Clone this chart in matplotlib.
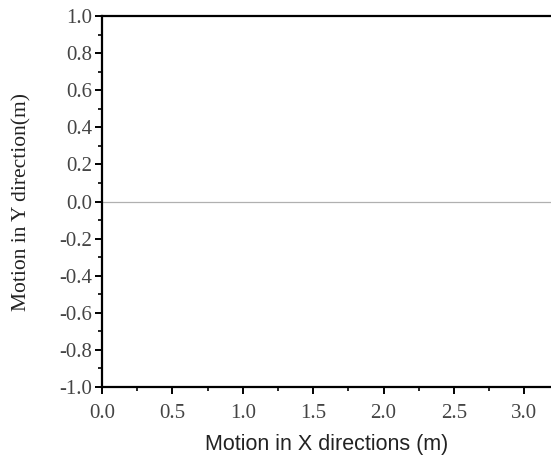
import matplotlib.pyplot as plt
from matplotlib.ticker import MultipleLocator

# motion path (lies on y = 0 along the whole x range)
x_motion = [0.0, 3.2]
y_motion = [0.0, 0.0]

x_ticks = [0.0, 0.5, 1.0, 1.5, 2.0, 2.5, 3.0]
y_ticks = [-1.0, -0.8, -0.6, -0.4, -0.2, 0.0, 0.2, 0.4, 0.6, 0.8, 1.0]

fig = plt.figure(figsize=(5.51, 4.61), dpi=100)
ax = fig.add_axes([102 / 551, 1 - 387 / 461, 1 - 102 / 551, (387 - 16) / 461])

ax.plot(x_motion, y_motion, color="#b0b0b0", lw=0.9)

ax.set_xlim(0, 3.19)
ax.set_ylim(-1.0, 1.0)
ax.set_xticks(x_ticks)
ax.set_yticks(y_ticks)
ax.set_xticklabels([f"{v:.1f}" for v in x_ticks])
ax.set_yticklabels([f"{v:.1f}" for v in y_ticks])
ax.xaxis.set_minor_locator(MultipleLocator(0.25))
ax.yaxis.set_minor_locator(MultipleLocator(0.1))

ax.spines["right"].set_visible(False)
for side in ["left", "bottom", "top"]:
    ax.spines[side].set_linewidth(1.6)
    ax.spines[side].set_color("black")

ax.tick_params(which="major", direction="out", length=5, width=1.4,
               labelsize=15, labelcolor="#444444")
ax.tick_params(axis="x", which="major", pad=7)
ax.tick_params(axis="y", which="major", pad=2)
ax.tick_params(which="minor", direction="out", length=3, width=1.2)
ax.tick_params(top=False, right=False)
for lab in ax.get_xticklabels() + ax.get_yticklabels():
    lab.set_fontfamily("Liberation Serif")

ax.set_xlabel("Motion in X directions (m)", family="Liberation Sans",
              fontsize=15.5, color="#222222", labelpad=8)
ax.set_ylabel("Motion in Y direction(m)", family="Liberation Serif",
              fontsize=15.5, color="#222222", labelpad=20)

fig.savefig("out.png", dpi=100)
